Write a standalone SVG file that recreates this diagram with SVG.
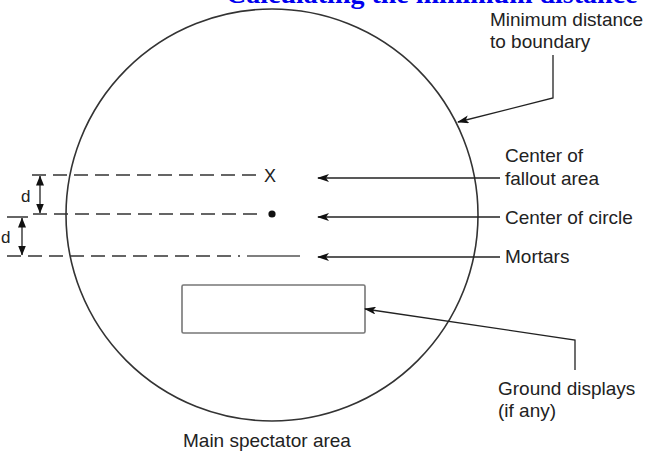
<svg xmlns="http://www.w3.org/2000/svg" width="652" height="453" viewBox="0 0 652 453">
<style>
text{font-family:"Liberation Sans",Arial,sans-serif;font-size:19px;fill:#222}
.title{font-family:"Liberation Serif","Times New Roman",serif;font-weight:bold;font-size:28px;fill:#0000ee}
.ln{stroke:#222;stroke-width:1.3;fill:none}
.dash{stroke:#333;stroke-width:1.5;fill:none;stroke-dasharray:14 7}
.arr{marker-end:url(#ah)}
</style>
<defs>
<marker id="ah" viewBox="0 0 12 8" refX="11" refY="4" markerWidth="12" markerHeight="8" markerUnits="userSpaceOnUse" orient="auto">
<path d="M0,0 L12,4 L0,8 L3,4 Z" fill="#111"/>
</marker>
<marker id="ahs" viewBox="0 0 10 8" refX="9.5" refY="4" markerWidth="10" markerHeight="8" markerUnits="userSpaceOnUse" orient="auto-start-reverse">
<path d="M0,0 L10,4 L0,8 Z" fill="#111"/>
</marker>
</defs>
<text class="title" x="226" y="3">Calculating the minimum distance</text>
<g id="boundary"><circle cx="272" cy="215" r="206" fill="none" stroke="#333" stroke-width="1.6"/></g>
<g id="fallout-center"><line class="dash" x1="32" y1="175" x2="262" y2="175"/><text x="264" y="182" style="font-size:18px">X</text></g>
<g id="circle-center"><line class="dash" x1="33" y1="214" x2="262" y2="214"/><circle cx="272" cy="214" r="3.6" fill="#111"/></g>
<g id="mortars"><line class="dash" x1="7" y1="256" x2="240" y2="256"/><line x1="247" y1="256" x2="300" y2="256" stroke="#555" stroke-width="1.6"/></g>
<g id="ground-displays"><rect x="182" y="285" width="183" height="48" fill="#fff" stroke="#777" stroke-width="1.6" rx="1.5"/></g>
<g id="dim-d1"><line class="ln" x1="40" y1="176" x2="40" y2="213" marker-start="url(#ahs)" marker-end="url(#ahs)"/><text x="21" y="202" style="font-size:17px">d</text></g>
<g id="dim-d2"><line x1="7" y1="217" x2="28" y2="217" stroke="#333" stroke-width="1.5"/><line class="ln" x1="22" y1="218" x2="22" y2="255" marker-start="url(#ahs)" marker-end="url(#ahs)"/><text x="1" y="243" style="font-size:17px">d</text></g>
<g id="labels">
<text x="490" y="26">Minimum distance</text>
<text x="490" y="48">to boundary</text>
<text x="505" y="162">Center of</text>
<text x="505" y="185">fallout area</text>
<text x="505" y="224">Center of circle</text>
<text x="505" y="263">Mortars</text>
<text x="498" y="395">Ground displays</text>
<text x="498" y="417">(if any)</text>
<text x="183" y="447">Main spectator area</text>
</g>
<g id="connectors">
<polyline class="ln arr" points="553,55 553,98 458,122"/>
<line class="ln arr" x1="500" y1="178" x2="318" y2="178"/>
<line class="ln arr" x1="500" y1="217" x2="318" y2="217"/>
<line class="ln arr" x1="500" y1="257" x2="318" y2="257"/>
<polyline class="ln arr" points="575,370 575,340 365,309"/>
</g>
</svg>
